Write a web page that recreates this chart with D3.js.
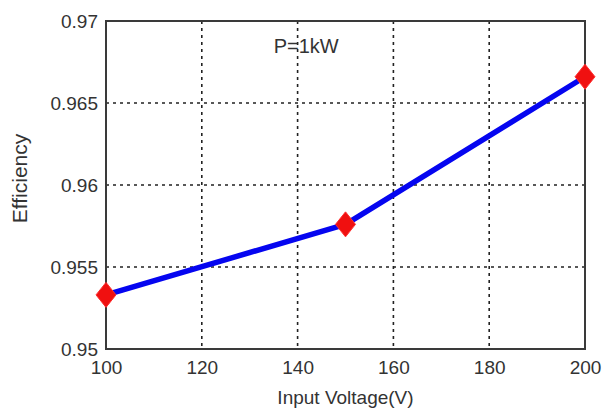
<!DOCTYPE html>
<html>
<head>
<meta charset="utf-8">
<script src="https://cdn.jsdelivr.net/npm/d3@7"></script>
<style>
  body { margin: 0; background: #fff; }
  svg { display: block; font-family: Arial, "Liberation Sans", sans-serif; }
  .tick text { fill: #333; }
</style>
</head>
<body>
<svg id="chart" width="605" height="412"></svg>
<script>
// Data
const voltages = [100, 150, 200];
const efficiency = [0.9533, 0.9576, 0.9666];
const xTicks = [100, 120, 140, 160, 180, 200];
const yTicks = [0.95, 0.955, 0.96, 0.965, 0.97];

const svg = d3.select("#chart");
const margin = { left: 106, right: 20, top: 21, bottom: 63 };
const width = 605 - margin.left - margin.right;
const height = 412 - margin.top - margin.bottom;

const x = d3.scaleLinear().domain([100, 200]).range([0, width]);
const y = d3.scaleLinear().domain([0.95, 0.97]).range([height, 0]);

const g = svg.append("g").attr("transform", `translate(${margin.left},${margin.top})`);

// dashed grid
g.append("g").selectAll("line")
    .data(xTicks.slice(1, -1))
    .enter().append("line")
    .attr("x1", d => x(d)).attr("x2", d => x(d))
    .attr("y1", 0).attr("y2", height)
    .attr("stroke", "#222").attr("stroke-width", 1.6)
    .attr("stroke-dasharray", "3,4");

g.append("g").selectAll("line")
    .data(yTicks.slice(1, -1))
    .enter().append("line")
    .attr("x1", 0).attr("x2", width)
    .attr("y1", d => y(d)).attr("y2", d => y(d))
    .attr("stroke", "#222").attr("stroke-width", 1.6)
    .attr("stroke-dasharray", "3,4");

// axes
const xAxis = g.append("g")
    .attr("transform", `translate(0,${height})`)
    .call(d3.axisBottom(x).tickValues(xTicks).tickFormat(d3.format("d")).tickSize(0).tickPadding(12));
const yAxis = g.append("g")
    .call(d3.axisLeft(y).tickValues(yTicks).tickFormat(d => d3.format("")(+d.toFixed(3))).tickSize(0).tickPadding(8));
[xAxis, yAxis].forEach(a => {
    a.select(".domain").remove();
    a.selectAll("text").style("font-size", "19px");
});

// frame
g.append("rect")
    .attr("width", width).attr("height", height)
    .attr("fill", "none").attr("stroke", "#3a3a3a").attr("stroke-width", 2);

// series line
const pts = voltages.map((v, i) => [v, efficiency[i]]);
g.append("path")
    .datum(pts)
    .attr("fill", "none")
    .attr("stroke", "#0505f0")
    .attr("stroke-width", 5.5)
    .attr("stroke-linejoin", "round")
    .attr("d", d3.line().x(d => x(d[0])).y(d => y(d[1])));

// diamond markers
g.append("g").selectAll("path")
    .data(pts)
    .enter().append("path")
    .attr("transform", d => `translate(${x(d[0])},${y(d[1])})`)
    .attr("d", "M0,-12.5 L10,0 L0,12.5 L-10,0 Z")
    .attr("fill", "#f01010")
    .attr("stroke", "#ff3030").attr("stroke-width", 1);

// annotation
g.append("text")
    .attr("x", x(135)).attr("y", 32)
    .attr("font-size", "20px").attr("fill", "#333")
    .text("P=1kW");

// axis labels
svg.append("text")
    .attr("x", margin.left + x(150)).attr("y", 404)
    .attr("text-anchor", "middle")
    .attr("font-size", "19px").attr("fill", "#333")
    .text("Input Voltage(V)");

svg.append("text")
    .attr("transform", `translate(27,${margin.top + y(0.9604)}) rotate(-90)`)
    .attr("text-anchor", "middle")
    .attr("font-size", "21px").attr("fill", "#333")
    .text("Efficiency");
</script>
</body>
</html>
